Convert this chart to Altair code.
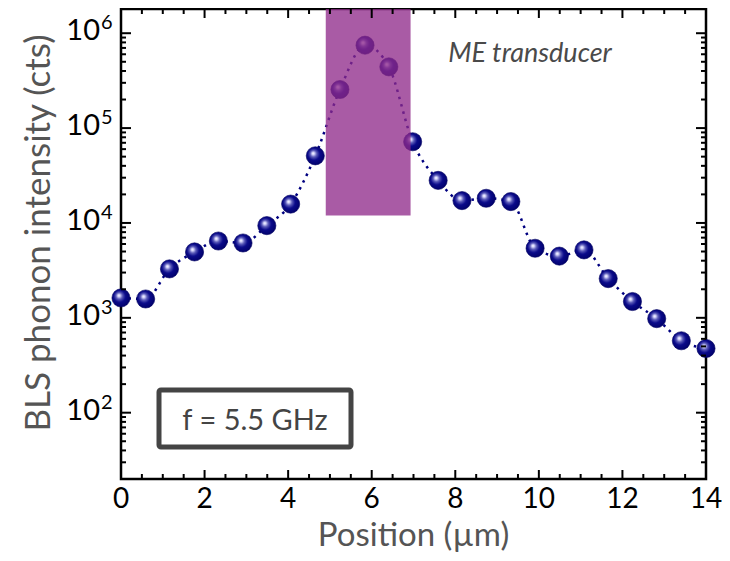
import altair as alt
import pandas as pd

# ---- data ----
positions = [0.0, 0.59, 1.16, 1.76, 2.33, 2.92, 3.49, 4.06, 4.65, 5.24, 5.84, 6.41, 6.98,
             7.59, 8.16, 8.74, 9.33, 9.91, 10.49, 11.08, 11.66, 12.24, 12.82, 13.41, 14.0]
intensities = [1620, 1580, 3280, 4950, 6450, 6150, 9370, 15800, 51000, 255000, 748000, 442000, 71800,
               28100, 17200, 18200, 16800, 5410, 4470, 5200, 2590, 1485, 980, 573, 475]

transducer_start = [4.9]
transducer_end = [6.93]
transducer_bottom = [1.2e4]

x_major = [0, 2, 4, 6, 8, 10, 12, 14]
x_labels = ["0", "2", "4", "6", "8", "10", "12", "14"]
x_minor = [0.5, 1, 1.5, 2.5, 3, 3.5, 4.5, 5, 5.5, 6.5, 7, 7.5, 8.5, 9, 9.5, 10.5, 11, 11.5, 12.5, 13, 13.5]
y_major = [1e2, 1e3, 1e4, 1e5, 1e6]
y_exponents = ["2", "3", "4", "5", "6"]
y_minor = [k * 10 ** e for e in range(1, 7) for k in range(2, 10) if 20 <= k * 10 ** e <= 1.8e6]

x_title = "Position (µm)"
y_title = "BLS phonon intensity (cts)"
annotation = "ME transducer"
freq_label = "f = 5.5 GHz"

W, H = 585, 470
FONT = "Lato"

df = pd.DataFrame({"pos": positions, "val": intensities})
xscale = alt.Scale(domain=[0, 14], nice=False, zero=False)
yscale = alt.Scale(type="log", domain=[20, 1.8e6], nice=False)

line = alt.Chart(df).mark_line(color="#000080", strokeWidth=2.5, strokeDash=[2.5, 5],
                               interpolate="monotone").encode(
    x=alt.X("pos:Q", scale=xscale, axis=None),
    y=alt.Y("val:Q", scale=yscale, axis=None),
)

sphere = alt.RadialGradient(
    gradient="radial", x1=0.38, y1=0.36, r1=0, x2=0.45, y2=0.45, r2=0.6,
    stops=[alt.GradientStop(color="#ffffff", offset=0),
           alt.GradientStop(color="#dcdcff", offset=0.1),
           alt.GradientStop(color="#5a5ab8", offset=0.3),
           alt.GradientStop(color="#0a0a8a", offset=0.55),
           alt.GradientStop(color="#000066", offset=1)])

points = alt.Chart(df).mark_point(shape="circle", size=330, filled=True, fill=sphere,
                                  stroke="#000060", strokeWidth=0.6, opacity=1).encode(
    x=alt.X("pos:Q", scale=xscale, axis=None),
    y=alt.Y("val:Q", scale=yscale, axis=None),
)

band_df = pd.DataFrame({"start": transducer_start, "end": transducer_end, "bottom": transducer_bottom})
band = alt.Chart(band_df).mark_rect(color="#8F2A8A", opacity=0.77).encode(
    x=alt.X("start:Q", scale=xscale, axis=None),
    x2="end:Q",
    y=alt.Y("bottom:Q", scale=yscale, axis=None),
    y2=alt.value(0),
)

me_text = alt.Chart(pd.DataFrame({"t": [annotation]})).mark_text(
    font=FONT, fontStyle="italic", fontSize=27, color="#4a4a4a", align="center",
    baseline="alphabetic").encode(x=alt.value(409), y=alt.value(53), text="t:N")

fbox = alt.Chart(pd.DataFrame({"a": [0]})).mark_rect(
    fill="white", stroke="#444444", strokeWidth=5, cornerRadius=2).encode(
    x=alt.value(38), x2=alt.value(230), y=alt.value(381), y2=alt.value(438))
ftext = alt.Chart(pd.DataFrame({"t": [freq_label]})).mark_text(
    font=FONT, fontSize=29, color="#444444", align="center", baseline="alphabetic").encode(
    x=alt.value(134), y=alt.value(421), text="t:N")

# y tick labels (10 with superscript exponent)
ylab_df = pd.DataFrame({"v": y_major, "base": ["10"] * len(y_major), "e": y_exponents})
ylab = alt.Chart(ylab_df).mark_text(font=FONT, fontSize=29, color="black", align="right",
                                    baseline="middle", dy=-2).encode(
    x=alt.value(-21), y=alt.Y("v:Q", scale=yscale, axis=None), text="base:N")
yexp = alt.Chart(ylab_df).mark_text(font=FONT, fontSize=20, color="black", align="left",
                                    baseline="middle", dy=-10).encode(
    x=alt.value(-20), y=alt.Y("v:Q", scale=yscale, axis=None), text="e:N")

# x tick labels
xlab_df = pd.DataFrame({"p": x_major, "lab": x_labels})
xlab = alt.Chart(xlab_df).mark_text(font=FONT, fontSize=28, color="black", align="center",
                                    baseline="alphabetic").encode(
    x=alt.X("p:Q", scale=xscale, axis=None), y=alt.value(499), text="lab:N")

# axis titles
xtitle = alt.Chart(pd.DataFrame({"t": [x_title]})).mark_text(
    font=FONT, fontSize=33, color="#555555", align="center", baseline="alphabetic").encode(
    x=alt.value(W / 2), y=alt.value(537), text="t:N")
ytitle = alt.Chart(pd.DataFrame({"t": [y_title]})).mark_text(
    font=FONT, fontSize=35, color="#555555", align="center", baseline="alphabetic",
    angle=270).encode(x=alt.value(-71), y=alt.value(224), text="t:N")


def yticks(vals, length):
    d = pd.DataFrame({"v": vals})
    left = alt.Chart(d).mark_rule(color="black", strokeWidth=2).encode(
        y=alt.Y("v:Q", scale=yscale, axis=None), x=alt.value(0), x2=alt.value(length))
    right = alt.Chart(d).mark_rule(color="black", strokeWidth=2).encode(
        y=alt.Y("v:Q", scale=yscale, axis=None), x=alt.value(W), x2=alt.value(W - length))
    return [left, right]


def xticks(vals, length):
    d = pd.DataFrame({"p": vals})
    bottom = alt.Chart(d).mark_rule(color="black", strokeWidth=2).encode(
        x=alt.X("p:Q", scale=xscale, axis=None), y=alt.value(H), y2=alt.value(H - length))
    top = alt.Chart(d).mark_rule(color="black", strokeWidth=2).encode(
        x=alt.X("p:Q", scale=xscale, axis=None), y=alt.value(0), y2=alt.value(length))
    return [bottom, top]


layers = [line, points, band, me_text, fbox, ftext, ylab, yexp, xlab, xtitle, ytitle]
layers += yticks(y_major, 10) + yticks(y_minor, 5)
layers += xticks(x_major, 9) + xticks(x_minor, 5)

chart = alt.layer(*layers).properties(
    width=W, height=H,
    autosize=alt.AutoSizeParams(type="none"),
    padding={"left": 113, "top": 1, "right": 16, "bottom": 74},
    background="white",
).configure_view(stroke="black", strokeWidth=2.5)

chart.save("out.html", embed_options={"renderer": "svg", "actions": False})
